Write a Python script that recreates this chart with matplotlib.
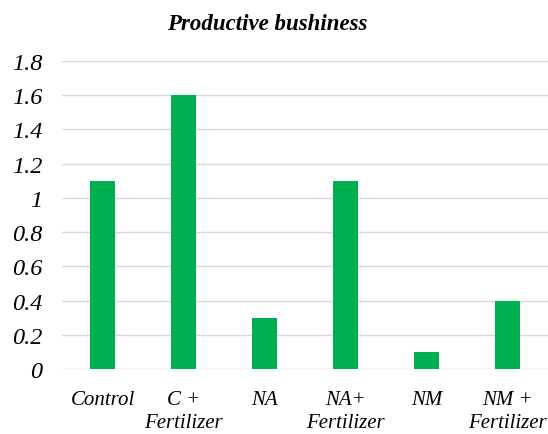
import matplotlib
matplotlib.use("Agg")
import matplotlib.pyplot as plt
import numpy as np

categories = ["Control", "C +\nFertilizer", "NA", "NA+\nFertilizer", "NM", "NM +\nFertilizer"]
values = [1.1, 1.6, 0.3, 1.1, 0.1, 0.4]
yticks = [0, 0.2, 0.4, 0.6, 0.8, 1, 1.2, 1.4, 1.6, 1.8]
ytick_labels = ["0", "0.2", "0.4", "0.6", "0.8", "1", "1.2", "1.4", "1.6", "1.8"]
title = "Productive bushiness"

plt.rcParams['font.family'] = ['Liberation Serif', 'DejaVu Serif']

fig = plt.figure(figsize=(5.48, 4.35), dpi=100)
ax = fig.add_axes([62/548, 1 - 370/435, 1 - 62/548, (370 - 62)/435])
x = np.arange(len(categories))
ax.bar(x, values, width=0.32, color="#00B050", zorder=3)
ax.set_xlim(-0.5, len(categories) - 0.5)
ax.set_ylim(0, 1.8)
ax.set_yticks(yticks)
ax.set_yticklabels(ytick_labels, fontsize=17.5, style="italic")
ax.set_xticks(x)
ax.set_xticklabels(categories, fontsize=15, style="italic", linespacing=1.3)
ax.tick_params(axis="both", length=0)
ax.tick_params(axis="y", pad=14)
ax.tick_params(axis="x", pad=15)
ax.grid(axis="y", color="#D9D9D9", linewidth=1.0, zorder=0)
for s in ax.spines.values():
    s.set_visible(False)
fig.text(267/548, 1 - 24/435, title, ha="center", va="center",
         fontsize=16.5, fontweight="bold", style="italic")
fig.savefig("out.png", dpi=100)
